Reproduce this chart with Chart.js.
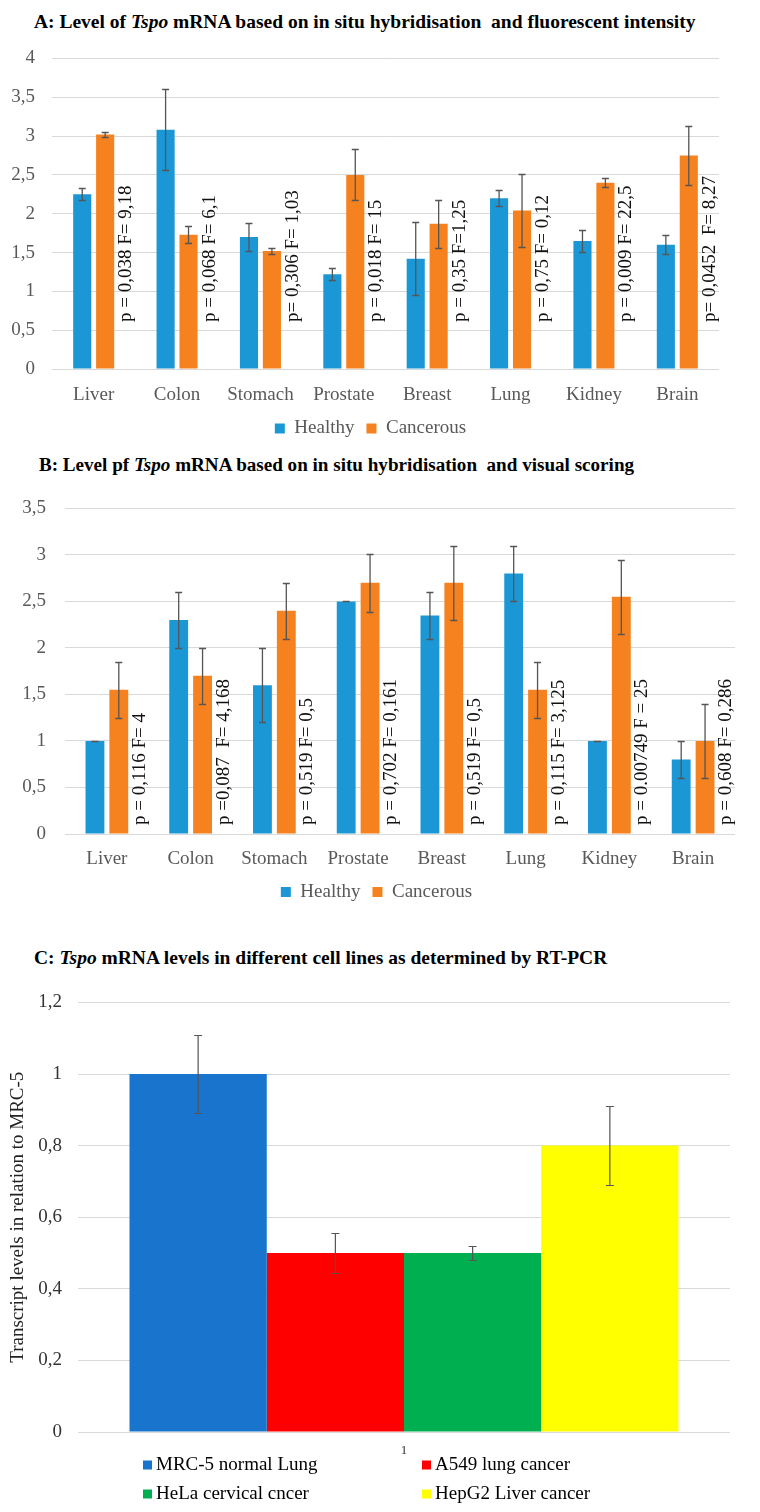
<!DOCTYPE html>
<html>
<head>
<meta charset="utf-8">
<script src="https://cdn.jsdelivr.net/npm/chart.js@4.4.1/dist/chart.umd.min.js"></script>
<style>
  body { margin: 0; width: 760px; height: 1512px; position: relative; background: #fff; }
  .title { position: absolute; font-family: 'Liberation Serif', 'Times New Roman', serif; font-weight: bold; font-size: 19.5px; line-height: 22px; white-space: pre; color: #000; }
  canvas { position: absolute; left: 0; }
</style>
</head>
<body>
<div class="title" style="top:11px;left:34px">A: Level of <i>Tspo</i> mRNA based on in situ hybridisation  and fluorescent intensity</div>
<canvas id="chartA" width="760" height="420" style="top:30px"></canvas>
<div class="title" style="top:454px;left:39px;font-size:19.1px">B: Level pf <i>Tspo</i> mRNA based on in situ hybridisation  and visual scoring</div>
<canvas id="chartB" width="760" height="436" style="top:478px"></canvas>
<div class="title" style="top:947px;left:34px">C: <i>Tspo</i> mRNA levels in different cell lines as determined by RT-PCR</div>
<canvas id="chartC" width="760" height="537" style="top:975px"></canvas>
<script>
// Data
const organs = ['Liver', 'Colon', 'Stomach', 'Prostate', 'Breast', 'Lung', 'Kidney', 'Brain'];

// A: fluorescent intensity
const healthyA = [2.25, 3.08, 1.70, 1.22, 1.42, 2.20, 1.65, 1.60];
const healthyErrA = [0.08, 0.52, 0.18, 0.08, 0.47, 0.10, 0.14, 0.12];
const cancerA = [3.02, 1.73, 1.52, 2.50, 1.87, 2.04, 2.40, 2.75];
const cancerErrA = [0.03, 0.11, 0.04, 0.33, 0.31, 0.47, 0.06, 0.38];
const statsA = ['p = 0,038 F= 9,18', 'p = 0,068 F= 6,1', 'p= 0,306 F= 1,03', 'p = 0,018 F= 15',
  'p = 0,35 F=1,25', 'p = 0,75 F= 0,12', 'p = 0,009 F= 22,5', 'p= 0,0452  F= 8,27'];
const ticksA = [0, 0.5, 1, 1.5, 2, 2.5, 3, 3.5, 4];

// B: visual scoring
const healthyB = [1.0, 2.3, 1.6, 2.5, 2.35, 2.8, 1.0, 0.8];
const healthyErrB = [0, 0.3, 0.4, 0, 0.25, 0.3, 0, 0.2];
const cancerB = [1.55, 1.7, 2.4, 2.7, 2.7, 1.55, 2.55, 1.0];
const cancerErrB = [0.3, 0.3, 0.3, 0.31, 0.4, 0.3, 0.4, 0.4];
const statsB = ['p = 0,116 F= 4', 'p =0,087  F= 4,168', 'p = 0,519 F= 0,5', 'p = 0,702 F= 0,161',
  'p = 0,519 F= 0,5', 'p = 0,115 F= 3,125', 'p = 0.00749 F = 25', 'p = 0,608 F= 0,286'];
const ticksB = [0, 0.5, 1, 1.5, 2, 2.5, 3, 3.5];

// C: RT-PCR cell lines
const cellLines = ['MRC-5 normal Lung', 'A549 lung cancer', 'HeLa cervical cncer', 'HepG2 Liver cancer'];
const cellValues = [1.0, 0.5, 0.5, 0.8];
const cellErrors = [0.11, 0.055, 0.02, 0.11];
const cellColors = ['#1874CD', '#FF0000', '#00B050', '#FFFF00'];
const ticksC = [0, 0.2, 0.4, 0.6, 0.8, 1, 1.2];

const SERIF = "'Liberation Serif', 'Times New Roman', serif";
const font19 = { family: SERIF, size: 19 };
Chart.defaults.animation = false;

const comma = v => String(v).replace('.', ',');

// error bars drawn from each dataset's "errors" array
const errorBars = {
  id: 'errorBars',
  afterDatasetsDraw(chart, args, opts) {
    const ctx = chart.ctx, y = chart.scales.y;
    ctx.save();
    ctx.strokeStyle = opts.color;
    ctx.lineWidth = opts.width;
    chart.data.datasets.forEach((ds, d) => {
      if (!ds.errors) return;
      chart.getDatasetMeta(d).data.forEach((bar, i) => {
        const v = ds.data[i], e = ds.errors[i];
        const top = Math.round(y.getPixelForValue(v + e)) + 0.5;
        const bot = Math.round(y.getPixelForValue(v - e)) + 0.5;
        ctx.beginPath();
        ctx.moveTo(bar.x, top); ctx.lineTo(bar.x, bot);
        ctx.moveTo(bar.x - opts.cap, top); ctx.lineTo(bar.x + opts.cap, top);
        ctx.moveTo(bar.x - opts.cap, bot); ctx.lineTo(bar.x + opts.cap, bot);
        ctx.stroke();
      });
    });
    ctx.restore();
  }
};

// rotated p / F text next to each cancerous bar
const statLabels = {
  id: 'statLabels',
  afterDatasetsDraw(chart, args, opts) {
    const ctx = chart.ctx;
    const ds = chart.data.datasets[1];
    const meta = chart.getDatasetMeta(1);
    ctx.save();
    ctx.font = opts.font;
    ctx.fillStyle = opts.color;
    ctx.textAlign = 'left';
    ctx.textBaseline = 'middle';
    ds.stats.forEach((t, i) => {
      ctx.save();
      ctx.translate(meta.data[i].x + opts.dx, chart.scales.y.bottom - opts.lift);
      ctx.rotate(-Math.PI / 2);
      ctx.fillText(t, 0, 0);
      ctx.restore();
    });
    ctx.restore();
  }
};

// nudge the bottom legend sideways
const legendShift = {
  id: 'legendShift',
  afterLayout(chart, args, opts) {
    chart.legend.left += opts.dx;
    chart.legend.right += opts.dx;
  }
};

// two-column legend for panel C
const gridLegend = {
  id: 'gridLegend',
  afterDraw(chart, args, opts) {
    const ctx = chart.ctx;
    ctx.save();
    ctx.font = opts.font;
    ctx.textBaseline = 'middle';
    chart.data.datasets.forEach((ds, i) => {
      const x = i % 2 ? opts.col1 : opts.col0;
      const y = i < 2 ? opts.row0 : opts.row1;
      ctx.fillStyle = ds.backgroundColor;
      ctx.fillRect(x, y - 4.5, 9, 9);
      ctx.fillStyle = opts.color;
      ctx.fillText(ds.label, x + 13, y);
    });
    ctx.restore();
  }
};

function organChart(id, healthy, healthyErr, cancer, cancerErr, stats, ticks, lay) {
  new Chart(document.getElementById(id), {
    type: 'bar',
    data: {
      labels: organs,
      datasets: [
        { label: 'Healthy', data: healthy, errors: healthyErr, backgroundColor: '#1C97D6',
          categoryPercentage: lay.cat, barPercentage: 0.79 },
        { label: 'Cancerous', data: cancer, errors: cancerErr, stats: stats, backgroundColor: '#F6821F',
          categoryPercentage: lay.cat, barPercentage: 0.79 }
      ]
    },
    options: {
      responsive: false,
      layout: { padding: { top: lay.top, right: lay.right, left: 0, bottom: lay.bottom } },
      scales: {
        x: {
          grid: { display: false },
          border: { display: false },
          ticks: { padding: lay.xpad, color: '#595959', font: font19 },
          afterFit: s => { s.height = lay.xh; }
        },
        y: {
          min: 0, max: ticks[ticks.length - 1],
          grid: { color: '#D9D9D9', drawTicks: false },
          border: { display: false },
          ticks: { padding: lay.ypad, color: '#595959', font: font19, callback: v => comma(v) },
          afterBuildTicks: s => { s.ticks = ticks.map(v => ({ value: v })); },
          afterFit: s => { s.width = lay.yw; }
        }
      },
      plugins: {
        legend: {
          position: 'bottom',
          labels: { boxWidth: 10, boxHeight: 10, padding: 12, color: '#595959', font: font19 }
        },
        tooltip: { enabled: false },
        legendShift: { dx: lay.legendDx },
        errorBars: { color: '#555', width: 1.3, cap: 3.5 },
        statLabels: { font: "19px 'Liberation Serif'", color: '#111', dx: 21, lift: lay.lift }
      }
    },
    plugins: [errorBars, statLabels, legendShift]
  });
}

organChart('chartA', healthyA, healthyErrA, cancerA, cancerErrA, statsA, ticksA,
  { cat: 0.55, top: 11, right: 41, bottom: 2, xpad: 7, xh: 38, yw: 52, ypad: 17, lift: 47, legendDx: 11 });
organChart('chartB', healthyB, healthyErrB, cancerB, cancerErrB, statsB, ticksB,
  { cat: 0.57, top: 25, right: 25, bottom: 2.5, xpad: 5.5, xh: 36.5, yw: 65, ypad: 19, lift: 9, legendDx: 9 });

new Chart(document.getElementById('chartC'), {
  type: 'bar',
  data: {
    labels: ['1'],
    datasets: cellLines.map((name, i) => ({
      label: name,
      data: [cellValues[i]],
      errors: [cellErrors[i]],
      backgroundColor: cellColors[i],
      categoryPercentage: 0.842,
      barPercentage: 1
    }))
  },
  options: {
    responsive: false,
    layout: { padding: { top: 23, right: 30, left: 0, bottom: 0 } },
    scales: {
      x: {
        grid: { display: false },
        border: { display: false },
        ticks: { padding: 3, font: { family: SERIF, size: 13 }, color: '#333' },
        afterFit: s => { s.height = 80; }
      },
      y: {
        min: 0, max: 1.2,
        grid: { color: '#D9D9D9', drawTicks: false },
        border: { display: false },
        ticks: { padding: 16, color: '#333', font: font19, callback: v => comma(v) },
        afterBuildTicks: s => { s.ticks = ticksC.map(v => ({ value: v })); },
        afterFit: s => { s.width = 78; },
        title: { display: true, text: 'Transcript levels in relation to MRC-5', color: '#222',
          font: font19, padding: { top: 7, bottom: 0 } }
      }
    },
    plugins: {
      legend: { display: false },
      tooltip: { enabled: false },
      errorBars: { color: '#555', width: 1.2, cap: 4 },
      gridLegend: { font: "19px 'Liberation Serif'", color: '#000', col0: 143, col1: 422, row0: 490, row1: 519 }
    }
  },
  plugins: [errorBars, gridLegend]
});
</script>
</body>
</html>
